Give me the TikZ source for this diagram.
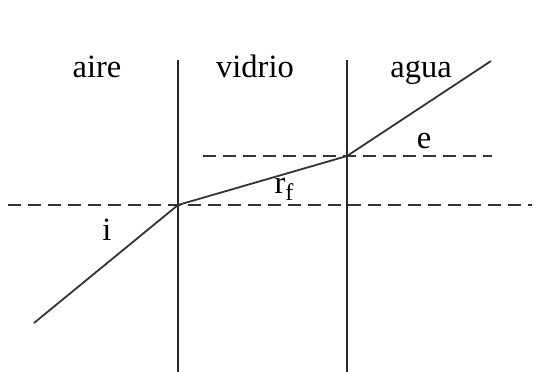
\documentclass[tikz,border=0pt]{standalone}
\usepackage{fontspec}
\setmainfont{Liberation Serif}
\begin{document}
\begin{tikzpicture}[x=1pt,y=-1pt,
  wall/.style={line width=1.6pt,black!85},
  ray/.style={line width=1.8pt,black!80},
  guide/.style={line width=1.6pt,black!80,dash pattern=on 13pt off 7pt},
  lbl/.style={anchor=base,inner sep=0pt,font=\fontsize{32.5}{38}\selectfont}]
\useasboundingbox (0,0) rectangle (536,372);
% interfaces
\coordinate (w1t) at (178,60);
\coordinate (w1b) at (178,372);
\coordinate (w2t) at (347,60);
\coordinate (w2b) at (347,372);
\draw[wall] (w1t) -- (w1b);
\draw[wall] (w2t) -- (w2b);
% normals (dashed)
\coordinate (n1l) at (8,205);
\coordinate (n1r) at (532,205);
\coordinate (n2l) at (203,156);
\coordinate (n2r) at (492,156);
\draw[guide] (n1l) -- (n1r);
\draw[guide] (n2l) -- (n2r);
% ray
\coordinate (start) at (34,323);
\coordinate (p1) at (178,205);
\coordinate (p2) at (347,156);
\coordinate (end) at (491,61);
\draw[ray,line join=round] (start) -- (p1) -- (p2) -- (end);
% labels
\node[lbl] (aire) at (97,77) {aire};
\node[lbl] (vidrio) at (255,77) {vidrio};
\node[lbl] (agua) at (421,77) {agua};
\node[lbl] (e) at (424,148) {e};
\node[lbl] (rf) at (284,193) {r\raisebox{-0.22em}{\fontsize{24}{28}\selectfont f}};
\node[lbl] (i) at (107,240) {i};
\end{tikzpicture}
\end{document}
